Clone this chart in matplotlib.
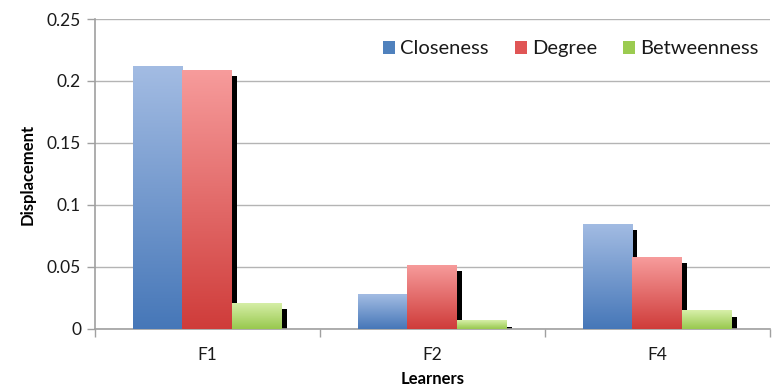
import numpy as np
import matplotlib
matplotlib.use("Agg")
import matplotlib.pyplot as plt
from matplotlib.colors import LinearSegmentedColormap
from matplotlib.patches import Rectangle, Patch

plt.rcParams['font.family'] = ['Lato', 'DejaVu Sans']

learners = ["F1", "F2", "F4"]
series = ["Closeness", "Degree", "Betweenness"]
closeness = [0.212, 0.028, 0.085]
degree = [0.209, 0.052, 0.058]
betweenness = [0.021, 0.007, 0.015]
values = [closeness, degree, betweenness]

# (top colour, bottom colour) for the vertical gradient of each series
gradients = [("#a3bce3", "#4677b8"), ("#f79c9c", "#cf3c3a"), ("#d8f0aa", "#98c84e")]
legend_colors = ["#4f81bd", "#e05555", "#9bcb50"]

fig = plt.figure(figsize=(7.74, 3.91), dpi=100)
ax = fig.add_axes([0.1227, 0.1586, 0.8721, 0.7928])

ymax = 0.25
bar_w = 0.222
shadow_dx = 0.02
shadow_dy = 0.005
grad = np.linspace(1, 0, 256).reshape(-1, 1)

for s, (vals, (ctop, cbot)) in enumerate(zip(values, gradients)):
    cmap = LinearSegmentedColormap.from_list(series[s], [cbot, ctop])
    for i, v in enumerate(vals):
        x0 = i + 0.5 - 1.5 * bar_w + s * bar_w
        # drop shadow to the right of the bar
        ax.add_patch(Rectangle((x0 + shadow_dx, 0), bar_w, max(v - shadow_dy, 0),
                               facecolor="black", edgecolor="none", zorder=2 + s * 0.1))
        rect = Rectangle((x0, 0), bar_w, v, facecolor="none", edgecolor="none",
                         zorder=3 + s * 0.1)
        ax.add_patch(rect)
        im = ax.imshow(grad[::-1], extent=(x0, x0 + bar_w, 0, v), cmap=cmap,
                       aspect="auto", origin="lower", zorder=3 + s * 0.1,
                       interpolation="bicubic")
        im.set_clip_path(rect)

ax.set_xlim(0, len(learners))
ax.set_ylim(0, ymax)

yticks = np.arange(0, 0.2501, 0.05)
ax.set_yticks(yticks)
ax.set_yticklabels(["0", "0.05", "0.1", "0.15", "0.2", "0.25"])
ax.yaxis.grid(True, color="#b4b4b4", linewidth=1.0, zorder=1)
ax.set_axisbelow(True)

ax.set_xticks([0.5, 1.5, 2.5])
ax.set_xticklabels(learners)
ax.set_xticks([0, 1, 2, 3], minor=True)
ax.tick_params(axis="x", which="major", length=0, pad=13, labelsize=12.5)
ax.tick_params(axis="x", which="minor", length=6, color="#a0a0a0", width=1)
ax.tick_params(axis="y", length=6, color="#a0a0a0", width=1, labelsize=12.5, pad=4)
for lab in ax.get_yticklabels() + ax.get_xticklabels():
    lab.set_color("#1a1a1a")

for side in ["top", "right"]:
    ax.spines[side].set_visible(False)
for side in ["left", "bottom"]:
    ax.spines[side].set_color("#a0a0a0")
    ax.spines[side].set_linewidth(1.2)

ax.set_ylabel("Displacement", fontweight="bold", fontsize=12, labelpad=8)
ax.set_xlabel("Learners", fontweight="bold", fontsize=12, labelpad=6)

handles = [Patch(facecolor=c, edgecolor="none") for c in legend_colors]
leg = ax.legend(handles, series, loc="upper right", bbox_to_anchor=(1.01, 0.99),
                ncol=3, frameon=False, fontsize=14.5, handlelength=0.6,
                handleheight=0.6, handletextpad=0.25, columnspacing=1.3)
for t in leg.get_texts():
    t.set_color("#1a1a1a")

fig.savefig("out.png", dpi=100)
